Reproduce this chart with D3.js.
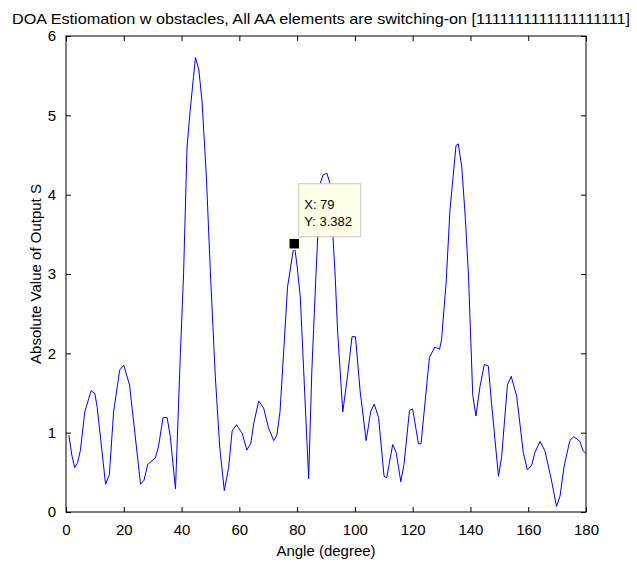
<!DOCTYPE html>
<html>
<script src="https://d3js.org/d3.v7.min.js"></script>
<style>
  body { margin: 0; background: #fff; }
  text { font-family: "Liberation Sans", Arial, Helvetica, sans-serif; fill: #000; }
</style>
<body>
<div id="myPlot"></div>
<script>
  // angles (degree) and |S|
  const angles = [1, 2, 3, 4, 5, 6.5, 8.7, 10, 10.8, 13.7, 15, 16.5, 18.6, 20, 22, 25.8, 27, 28.3, 30.9, 32,
    33.6, 35, 36.1, 37.9, 39.6, 40.7, 41.9, 43, 44.8, 46, 47.1, 48.6, 50, 51.7, 53.2, 54.8, 56.3, 57.5, 59, 61,
    62.6, 64, 65, 66.7, 68.4, 70.1, 71.9, 73, 74.1, 76.7, 79, 80, 81.1, 84, 85.1, 86.6, 88, 89, 90.3, 91.4,
    93.2, 94, 95.8, 97.4, 99, 100.2, 101.8, 103.9, 105.5, 106.7, 108.2, 110.1, 111, 113.1, 114.3, 115.9, 117, 118.9, 120, 122,
    122.9, 125.8, 127.7, 129.3, 130, 131.6, 132.9, 135, 135.8, 137, 138.2, 139.3, 140.8, 141.9, 143.3, 144.8, 146.2, 147.3, 149.7, 150.8,
    152.8, 154.1, 156, 158.3, 159.7, 161.2, 162.3, 164.1, 165.8, 168.1, 169.8, 171, 172.4, 174.4, 175.8, 177.9, 179, 180];
  const values = [0.97, 0.72, 0.56, 0.62, 0.78, 1.26, 1.53, 1.49, 1.32, 0.35, 0.47, 1.27, 1.79, 1.85, 1.6, 0.35, 0.4, 0.6, 0.68, 0.82,
    1.19, 1.19, 0.95, 0.29, 2.0, 3.0, 4.6, 5.07, 5.73, 5.57, 5.17, 4.22, 3.0, 1.7, 0.82, 0.27, 0.56, 1.02, 1.1, 0.99,
    0.78, 0.87, 1.12, 1.40, 1.31, 1.06, 0.9, 0.97, 1.27, 2.84, 3.38, 3.1, 2.71, 0.42, 1.79, 3.05, 4.14, 4.25, 4.27, 4.14,
    2.96, 2.29, 1.26, 1.7, 2.21, 2.21, 1.53, 0.9, 1.27, 1.36, 1.19, 0.45, 0.43, 0.85, 0.75, 0.38, 0.6, 1.28, 1.3, 0.86,
    0.86, 1.95, 2.08, 2.05, 2.17, 2.9, 3.8, 4.62, 4.64, 4.35, 3.72, 3.0, 1.47, 1.21, 1.58, 1.86, 1.84, 1.37, 0.45, 0.7,
    1.6, 1.71, 1.46, 0.75, 0.53, 0.59, 0.75, 0.89, 0.77, 0.39, 0.07, 0.2, 0.57, 0.9, 0.95, 0.89, 0.77, 0.74];

  const xTicks = [0, 20, 40, 60, 80, 100, 120, 140, 160, 180];
  const yTicks = [0, 1, 2, 3, 4, 5, 6];

  // data cursor
  const tipX = 79;
  const tipY = 3.382;

  const title = "DOA Estiomation w obstacles, All AA elements are switching-on [1111111111111111111]";
  const xLabel = "Angle (degree)";
  const yLabel = "Absolute Value of Output S";

  const width = 637, height = 564;
  const margin = { top: 36, right: 51, bottom: 52, left: 66 };

  const svg = d3.select("#myPlot")
    .append("svg")
    .attr("width", width)
    .attr("height", height);

  const x = d3.scaleLinear().domain([0, 180]).range([margin.left, width - margin.right]);
  const y = d3.scaleLinear().domain([0, 6]).range([height - margin.bottom, margin.top]);

  // bottom / left axes with labels, ticks pointing inward
  svg.append("g")
    .attr("transform", `translate(0,${height - margin.bottom})`)
    .call(d3.axisBottom(x).tickValues(xTicks).tickFormat(d3.format("d")).tickSizeInner(-5).tickSizeOuter(0).tickPadding(12))
    .call(g => g.select(".domain").remove())
    .call(g => g.selectAll("text").attr("font-size", 15).attr("font-family", null));

  svg.append("g")
    .attr("transform", `translate(${margin.left},0)`)
    .call(d3.axisLeft(y).tickValues(yTicks).tickFormat(d3.format("d")).tickSizeInner(-5).tickSizeOuter(0).tickPadding(10))
    .call(g => g.select(".domain").remove())
    .call(g => g.selectAll("text").attr("font-size", 15).attr("font-family", null));

  // mirrored ticks on top / right
  svg.append("g")
    .attr("transform", `translate(0,${margin.top})`)
    .call(d3.axisTop(x).tickValues(xTicks).tickSizeInner(-5).tickSizeOuter(0).tickFormat(""))
    .call(g => g.select(".domain").remove());

  svg.append("g")
    .attr("transform", `translate(${width - margin.right},0)`)
    .call(d3.axisRight(y).tickValues(yTicks).tickSizeInner(-5).tickSizeOuter(0).tickFormat(""))
    .call(g => g.select(".domain").remove());

  svg.selectAll(".tick line").attr("stroke", "#000");

  // axes box
  svg.append("rect")
    .attr("x", x(0))
    .attr("y", y(6))
    .attr("width", x(180) - x(0))
    .attr("height", y(0) - y(6))
    .attr("fill", "none")
    .attr("stroke", "#000")
    .attr("stroke-width", 1);

  const line = d3.line()
    .x((d, i) => x(angles[i]))
    .y(d => y(d));

  svg.append("path")
    .datum(values)
    .attr("fill", "none")
    .attr("stroke", "#0000ff")
    .attr("stroke-width", 1)
    .attr("stroke-linejoin", "round")
    .attr("d", line);

  // data tip marker + box
  const mx = x(tipX), my = y(tipY);
  svg.append("rect")
    .attr("x", mx - 5.5).attr("y", my - 5.5)
    .attr("width", 11).attr("height", 11)
    .attr("fill", "#000")
    .attr("stroke", "#ffffd8")
    .attr("stroke-width", 1.5);

  svg.append("rect")
    .attr("x", mx + 4.5).attr("y", my - 60)
    .attr("width", 62).attr("height", 53)
    .attr("fill", "#ffffe8")
    .attr("stroke", "#c8c8c8")
    .attr("stroke-width", 1);

  svg.append("text")
    .attr("x", mx + 10).attr("y", my - 35)
    .attr("font-size", 13)
    .text("X: " + tipX);
  svg.append("text")
    .attr("x", mx + 10).attr("y", my - 18)
    .attr("font-size", 13)
    .text("Y: " + tipY);

  // titles
  svg.append("text")
    .attr("x", 321).attr("y", 24)
    .attr("text-anchor", "middle")
    .attr("font-size", 15)
    .attr("textLength", 618)
    .attr("lengthAdjust", "spacingAndGlyphs")
    .text(title);

  svg.append("text")
    .attr("x", (x(0) + x(180)) / 2).attr("y", 556)
    .attr("text-anchor", "middle")
    .attr("font-size", 15)
    .text(xLabel);

  svg.append("text")
    .attr("transform", `translate(41,${(y(0) + y(6)) / 2}) rotate(-90)`)
    .attr("text-anchor", "middle")
    .attr("font-size", 15)
    .text(yLabel);
</script>
</body>
</html>
